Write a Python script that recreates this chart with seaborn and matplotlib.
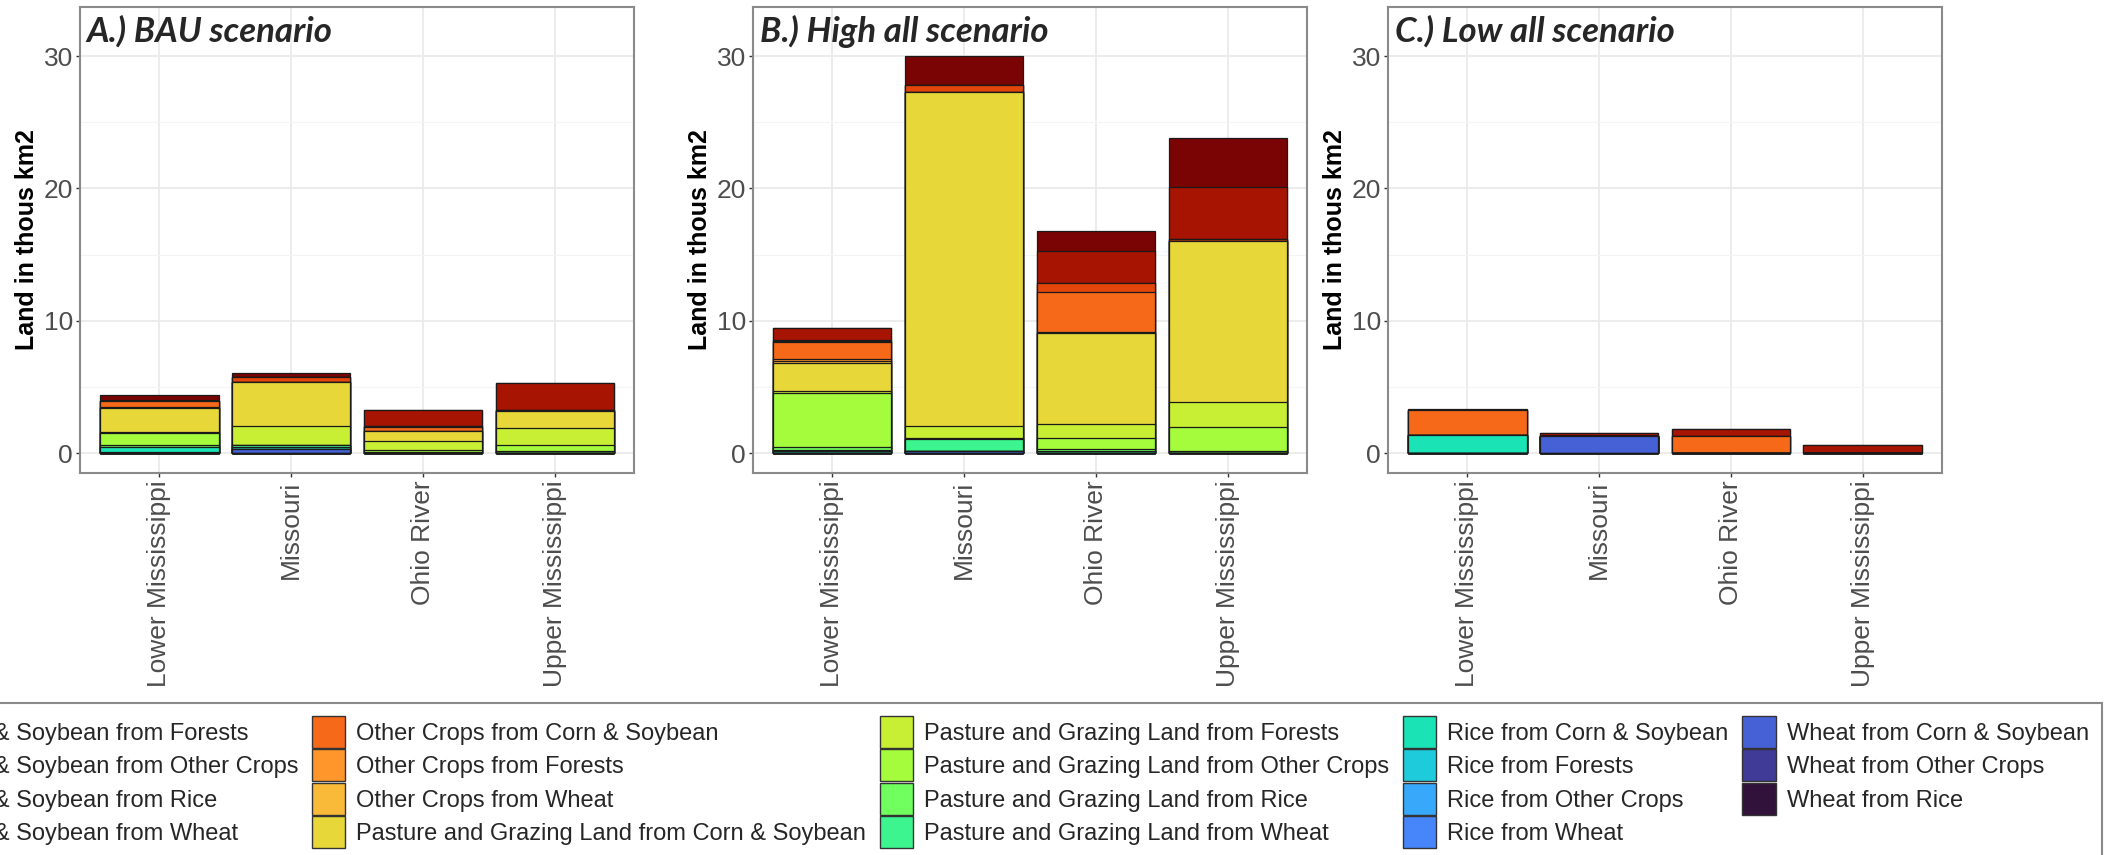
import numpy as np
import matplotlib
matplotlib.use("Agg")
import matplotlib.pyplot as plt
from matplotlib.patches import Patch
import seaborn as sns

regions = ["Lower Mississippi", "Missouri", "Ohio River", "Upper Mississippi"]

transitions = [
    "Corn & Soybean from Forests", "Corn & Soybean from Other Crops",
    "Corn & Soybean from Rice", "Corn & Soybean from Wheat",
    "Other Crops from Corn & Soybean", "Other Crops from Forests",
    "Other Crops from Wheat", "Pasture and Grazing Land from Corn & Soybean",
    "Pasture and Grazing Land from Forests", "Pasture and Grazing Land from Other Crops",
    "Pasture and Grazing Land from Rice", "Pasture and Grazing Land from Wheat",
    "Rice from Corn & Soybean", "Rice from Forests", "Rice from Other Crops",
    "Rice from Wheat", "Wheat from Corn & Soybean", "Wheat from Other Crops",
    "Wheat from Rice",
]

# values in thous km2, one entry per transition (same order as above)
bau_lower = [0.40, 0.05, 0, 0, 0.45, 0.05, 0.05, 1.80, 0.10, 0.90, 0.10, 0, 0.40, 0.05, 0, 0, 0.05, 0, 0]
bau_missouri = [0.28, 0, 0, 0.40, 0, 0, 0, 3.30, 1.40, 0, 0, 0.20, 0.10, 0, 0, 0, 0.35, 0, 0]
bau_ohio = [0, 1.20, 0, 0.15, 0.25, 0, 0.05, 0.75, 0.65, 0.15, 0.05, 0.05, 0, 0, 0, 0, 0, 0, 0]
bau_upper = [0, 2.00, 0, 0.05, 0.05, 0, 0, 1.30, 1.30, 0.45, 0.10, 0.05, 0, 0, 0, 0, 0, 0, 0]

high_lower = [0, 0.90, 0.05, 0.12, 1.22, 0.20, 0.15, 2.10, 0.15, 4.05, 0.25, 0.10, 0.10, 0, 0, 0, 0.05, 0, 0]
high_missouri = [2.15, 0.05, 0, 0.50, 0.05, 0, 0, 25.20, 0.90, 0.05, 0, 0.90, 0, 0, 0, 0, 0.20, 0, 0]
high_ohio = [1.55, 2.40, 0, 0.70, 3.00, 0.05, 0, 6.90, 1.05, 0.85, 0.15, 0.10, 0.05, 0, 0, 0, 0, 0, 0]
high_upper = [3.70, 3.95, 0, 0.10, 0, 0, 0, 12.20, 1.90, 1.75, 0.15, 0.05, 0, 0, 0, 0, 0, 0, 0]

low_lower = [0.05, 0.05, 0, 0, 1.85, 0, 0, 0, 0, 0, 0, 0, 1.40, 0, 0, 0, 0, 0, 0]
low_missouri = [0, 0.20, 0, 0, 0, 0, 0, 0, 0, 0, 0, 0, 0, 0, 0, 0, 1.25, 0.05, 0]
low_ohio = [0, 0.50, 0, 0, 1.25, 0, 0, 0, 0.05, 0, 0, 0, 0, 0, 0, 0, 0, 0, 0]
low_upper = [0, 0.65, 0, 0, 0, 0, 0, 0, 0, 0, 0, 0, 0, 0, 0, 0, 0, 0, 0]

panel_titles = ["A.) BAU scenario", "B.) High all scenario", "C.) Low all scenario"]
panel_data = [
    [bau_lower, bau_missouri, bau_ohio, bau_upper],
    [high_lower, high_missouri, high_ohio, high_upper],
    [low_lower, low_missouri, low_ohio, low_upper],
]

sns.set_theme(style="whitegrid")
plt.rcParams['font.family'] = ['Liberation Sans', 'DejaVu Sans']

colors = plt.get_cmap('turbo')(np.linspace(0, 1, len(transitions)))[::-1]

W, H = 2105, 855
fig = plt.figure(figsize=(W / 100, H / 100), dpi=100)
fig.patch.set_facecolor('white')

lefts = [80, 753, 1388]
axes = [fig.add_axes([l / W, 381.7 / H, 554 / W, 466.6 / H]) for l in lefts]


def draw_panel(ax, values, title):
    vals = np.array(values)
    # stacked: first transition on top, drawn as overlapping cumulative bars
    for k in range(len(transitions)):
        cum = vals[:, k:].sum(axis=1)
        sns.barplot(x=regions, y=cum, order=regions, color=colors[k], saturation=1,
                    width=0.9, edgecolor='#1a1a1a', linewidth=0.9, errorbar=None, ax=ax)
    ax.set_xlim(-0.6, 3.6)
    ax.set_ylim(-1.51, 33.73)
    ax.set_yticks([0, 10, 20, 30])
    ax.set_yticks([5, 15, 25], minor=True)
    ax.set_axisbelow(True)
    ax.grid(which='major', color='#ebebeb', linewidth=1.3)
    ax.grid(which='minor', axis='y', color='#f4f4f4', linewidth=0.8)
    ax.xaxis.grid(True)
    for s in ax.spines.values():
        s.set_color('#8a8a8a')
        s.set_linewidth(1.5)
    ax.tick_params(which='major', bottom=True, left=True, length=3.2, width=1,
                   color='#333333', labelsize=19, labelcolor='#4d4d4d', pad=2)
    ax.tick_params(which='minor', length=0)
    ax.tick_params(axis='x', labelrotation=90)
    ax.set_xlabel('')
    ax.set_ylabel('Land in thous km2', fontsize=18, fontweight='bold', color='black', labelpad=3)
    ax.text(0.012, 0.925, title, transform=ax.transAxes, fontsize=25, fontweight='bold',
            fontstyle='italic', family=['Lato', 'DejaVu Sans'], ha='left', va='baseline')


for ax, vals, title in zip(axes, panel_data, panel_titles):
    draw_panel(ax, vals, title)

handles = [Patch(facecolor=c, edgecolor='#333333', linewidth=1.0) for c in colors]
leg = fig.legend(handles, transitions, ncol=5, loc='upper left',
                 bbox_to_anchor=(-122 / W, 1 - 703 / H), bbox_transform=fig.transFigure,
                 fontsize=17, frameon=True, fancybox=False, framealpha=1,
                 edgecolor='#8a8a8a', borderaxespad=0, borderpad=0.55,
                 labelspacing=0.06, handlelength=1.42, handleheight=1.71,
                 handletextpad=0.47, columnspacing=0.57)
leg.get_frame().set_linewidth(1.5)

fig.savefig('out.png', dpi=100, facecolor='white')
